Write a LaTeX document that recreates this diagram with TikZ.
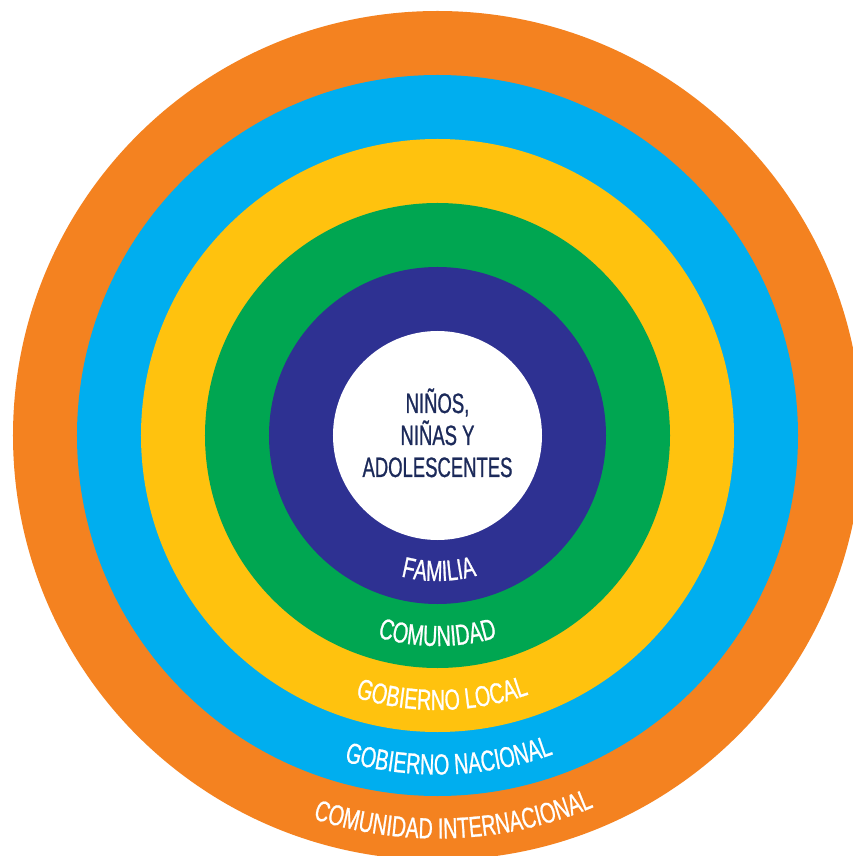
\documentclass[tikz,border=0pt]{standalone}
\usepackage{fontspec}
\usetikzlibrary{decorations.text}
\newfontfamily\condfont[FakeStretch=0.68, FakeBold=0.8]{Liberation Sans}
\newfontfamily\centrefont[FakeStretch=0.66, FakeBold=0.8]{Liberation Sans}
\newcommand\lblfont{\condfont\fontsize{29}{29}\selectfont}
\newcommand\bigfont{\centrefont\fontsize{28}{32}\selectfont}
\definecolor{cOrange}{RGB}{244,130,32}
\definecolor{cBlue}{RGB}{0,174,239}
\definecolor{cYellow}{RGB}{255,194,14}
\definecolor{cGreen}{RGB}{0,166,81}
\definecolor{cPurple}{RGB}{46,49,146}
\definecolor{cNavy}{RGB}{28,42,90}
\tikzset{
  arclabel/.style={decorate, decoration={text along path, text align=center, text color=white}},
  centertext/.style={font=\bigfont, text=cNavy, inner sep=0pt, anchor=base},
}
\begin{document}
\begin{tikzpicture}[x=1pt,y=1pt]
\useasboundingbox (-437.5,-420.5) rectangle (415.5,435.5);
\fill[white] (-437.5,-420.5) rectangle (415.5,435.5);
\fill[cOrange] (0,0) circle[radius=424.5];
\fill[cBlue] (0,0) circle[radius=360.5];
\fill[cYellow] (0,0) circle[radius=296.5];
\fill[cGreen] (0,0) circle[radius=232.5];
\fill[cPurple] (0,0) circle[radius=168.5];
\fill[white] (0,0) circle[radius=104.5];
% curved labels
\path[arclabel, decoration={text={|\lblfont|FAMILIA}}]
  (0,0) ++(230.6:145.5) arc[start angle=230.6, end angle=310.6, radius=145.5];
\path[arclabel, decoration={text={|\lblfont|COMUNIDAD}}]
  (0,0) ++(230:210.5) arc[start angle=230, end angle=310, radius=210.5];
\path[arclabel, decoration={text={|\lblfont|GOBIERNO LOCAL}}]
  (0,0) ++(231:274.5) arc[start angle=231, end angle=311, radius=274.5];
\path[arclabel, decoration={text={|\lblfont|GOBIERNO NACIONAL}}]
  (0,0) ++(232:339) arc[start angle=232, end angle=312, radius=339];
\path[arclabel, decoration={text={|\lblfont|COMUNIDAD INTERNACIONAL}}]
  (0,0) ++(232.4:403) arc[start angle=232.4, end angle=312.4, radius=403];
% centre text
\node[centertext] (l1) at (0,22.5) {NIÑOS,};
\node[centertext] (l2) at (0,-9.5) {NIÑAS Y};
\node[centertext] (l3) at (0,-41.5) {ADOLESCENTES};
\end{tikzpicture}
\end{document}
